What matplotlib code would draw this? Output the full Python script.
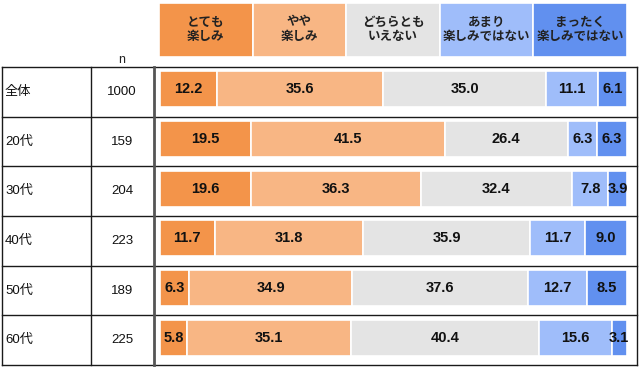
import matplotlib.pyplot as plt
import numpy as np

plt.rcParams['font.family'] = ['Liberation Sans', 'Noto Sans CJK JP', 'DejaVu Sans']

groups = ['全体', '20代', '30代', '40代', '50代', '60代']
n_values = [1000, 159, 204, 223, 189, 225]
answers = ['とても\n楽しみ', 'やや\n楽しみ', 'どちらとも\nいえない', 'あまり\n楽しみではない', 'まったく\n楽しみではない']
very = [12.2, 19.5, 19.6, 11.7, 6.3, 5.8]
somewhat = [35.6, 41.5, 36.3, 31.8, 34.9, 35.1]
neutral = [35.0, 26.4, 32.4, 35.9, 37.6, 40.4]
not_much = [11.1, 6.3, 7.8, 11.7, 12.7, 15.6]
not_at_all = [6.1, 6.3, 3.9, 9.0, 8.5, 3.1]

colors = ['#F3944A', '#F8B684', '#E4E4E4', '#9FBDFA', '#6190EF']

W, H = 640, 367
fig = plt.figure(figsize=(W / 100, H / 100), dpi=100)

def fx(px):
    return px / W

def fy(py):
    return 1 - py / H

# table grid in pixel coordinates
grid = fig.add_axes([0, 0, 1, 1])
grid.set_xlim(0, W)
grid.set_ylim(H, 0)
grid.axis('off')
top, bottom = 67, 365
row_h = (bottom - top) / len(groups)
for i in range(len(groups) + 1):
    grid.plot([2, 637], [top + i * row_h] * 2, color='#1a1a1a', lw=1.0)
grid.plot([2, 2], [top, bottom], color='#1a1a1a', lw=1.0)
grid.plot([91, 91], [top, bottom], color='#1a1a1a', lw=1.0)
grid.plot([154, 154], [top, bottom], color='#555555', lw=2.0)
grid.plot([637, 637], [top, bottom], color='#1a1a1a', lw=1.0)
grid.text(122, 60, 'n', ha='center', va='center', fontsize=9, color='#222222')

# bars
ax = fig.add_axes([fx(160), fy(bottom), fx(627) - fx(160), (bottom - top) / H])
ax.set_xlim(0, 100.1)
ax.set_ylim(len(groups) - 0.5, -0.5)
ax.axis('off')
y = np.arange(len(groups))
series = [very, somewhat, neutral, not_much, not_at_all]
left = np.zeros(len(groups))
for vals, c in zip(series, colors):
    vals = np.array(vals)
    ax.barh(y - 0.05, vals, left=left, height=0.72, color=c, edgecolor='white', linewidth=1.2)
    for yi, l, v in zip(y, left, vals):
        ax.text(l + v / 2, yi - 0.05, f'{v:.1f}', ha='center', va='center',
                fontsize=10.5, fontweight='bold', color='#111111')
    left += vals

tr = ax.get_yaxis_transform()
for yi, g, n in zip(y, groups, n_values):
    ax.text((5 - 160) / 467, yi, g, transform=tr, ha='left', va='center',
            fontsize=9.5, color='#111111', clip_on=False)
    ax.text((122 - 160) / 467, yi, str(n), transform=tr, ha='center', va='center',
            fontsize=9.5, color='#111111', clip_on=False)

# header boxes
hx = fig.add_axes([fx(159), fy(57), fx(627) - fx(159), 54 / H])
hx.set_xlim(0, len(answers))
hx.set_ylim(-0.5, 0.5)
hx.axis('off')
hx.barh(0, [1] * len(answers), left=np.arange(len(answers)), height=1.0,
        color=colors, edgecolor='white', linewidth=1.2)
for i, a in enumerate(answers):
    hx.text(i + 0.5, 0, a, ha='center', va='center', fontsize=9,
            fontweight='bold', color='#222222', linespacing=1.3)

fig.savefig('out.png', dpi=100)
